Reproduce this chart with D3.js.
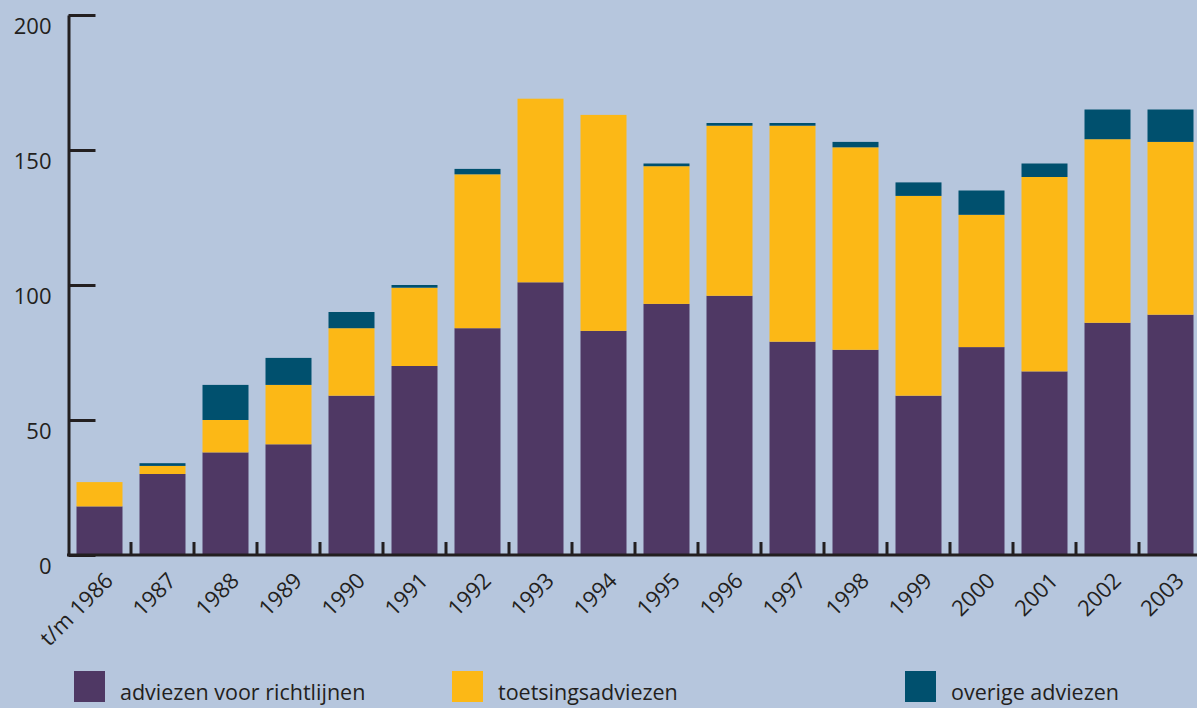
<!DOCTYPE html>
<meta charset="utf-8">
<style>
  body { margin: 0; background: #b6c6dd; }
  text { font-family: "Open Sans", sans-serif; fill: #231f20; }
</style>
<script src="https://d3js.org/d3.v7.min.js"></script>
<div id="my_dataviz"></div>
<script>

// data
var years = ["t/m 1986", "1987", "1988", "1989", "1990", "1991", "1992", "1993", "1994",
             "1995", "1996", "1997", "1998", "1999", "2000", "2001", "2002", "2003"];
var richtlijnen = [18, 30, 38, 41, 59, 70, 84, 101, 83, 93, 96, 79, 76, 59, 77, 68, 86, 89];
var toetsing    = [ 9,  3, 12, 22, 25, 29, 57,  68, 80, 51, 63, 80, 75, 74, 49, 72, 68, 64];
var overige     = [ 0,  1, 13, 10,  6,  1,  2,   0,  0,  1,  1,  1,  2,  5,  9,  5, 11, 12];
var seriesNames = ["adviezen voor richtlijnen", "toetsingsadviezen", "overige adviezen"];
var seriesColors = ["#4f3864", "#fcb816", "#00506e"];
var yTicks = [0, 50, 100, 150, 200];

var width = 1197, height = 708;

var svg = d3.select("#my_dataviz")
  .append("svg")
    .attr("width", width)
    .attr("height", height)
    .style("display", "block");

svg.append("rect")
  .attr("width", width)
  .attr("height", height)
  .attr("fill", "#b6c6dd");

// scales
var x = d3.scaleBand()
  .domain(years)
  .range([68, 1202])
  .paddingInner(0.27)
  .paddingOuter(0.135);

var y = d3.scaleLinear()
  .domain([0, 200])
  .range([555, 15]);

// stack the three series
var table = years.map(function(d, i) {
  return { year: d, a: richtlijnen[i], b: toetsing[i], c: overige[i] };
});
var stacked = d3.stack().keys(["a", "b", "c"])(table);

svg.append("g")
  .selectAll("g")
  .data(stacked)
  .enter()
  .append("g")
    .attr("fill", function(d, i) { return seriesColors[i]; })
  .selectAll("rect")
  .data(function(d) { return d; })
  .enter()
  .append("rect")
    .attr("x", function(d) { return x(d.data.year); })
    .attr("y", function(d) { return y(d[1]); })
    .attr("width", x.bandwidth())
    .attr("height", function(d) { return y(d[0]) - y(d[1]); });

// y axis, ticks pointing into the plot
var yAxis = svg.append("g")
  .attr("transform", "translate(68.5,0)")
  .call(d3.axisLeft(y).tickValues(yTicks).tickSize(-27).tickSizeOuter(0).tickPadding(17));
yAxis.selectAll("line, path").attr("stroke", "#231f20").attr("stroke-width", 3);
yAxis.selectAll("text")
  .attr("dy", "0.84em")
  .style("font-size", "22px")
  .style("font-family", "'Open Sans', sans-serif")
  .attr("fill", "#231f20");

// x baseline and the small ticks between bars
svg.append("line")
  .attr("x1", 67).attr("x2", width)
  .attr("y1", y(0)).attr("y2", y(0))
  .attr("stroke", "#231f20").attr("stroke-width", 3);

var gap = x.step() * x.paddingInner() / 2;
svg.append("g")
  .selectAll("line")
  .data(years.slice(1))
  .enter()
  .append("line")
    .attr("x1", function(d) { return x(d) - gap; })
    .attr("x2", function(d) { return x(d) - gap; })
    .attr("y1", y(0) - 13)
    .attr("y2", y(0))
    .attr("stroke", "#231f20").attr("stroke-width", 3);

// x labels, rotated
var xAxis = svg.append("g")
  .attr("transform", "translate(0,555)")
  .call(d3.axisBottom(x).tickSize(0));
xAxis.select(".domain").remove();
xAxis.selectAll("text")
  .attr("x", 0).attr("y", 0).attr("dy", 0)
  .attr("transform", "translate(15,27) rotate(-45)")
  .style("text-anchor", "end")
  .style("font-size", "22px")
  .style("font-family", "'Open Sans', sans-serif")
  .attr("fill", "#231f20");

// legend
var legendX = [74, 452, 905];
var legend = svg.append("g")
  .selectAll("g")
  .data(seriesNames)
  .enter()
  .append("g")
    .attr("transform", function(d, i) { return "translate(" + legendX[i] + ",671)"; });
legend.append("rect")
  .attr("width", 31)
  .attr("height", 31)
  .attr("fill", function(d, i) { return seriesColors[i]; });
legend.append("text")
  .attr("x", 46)
  .attr("y", 29)
  .style("font-size", "21.5px")
  .text(function(d) { return d; });

</script>
